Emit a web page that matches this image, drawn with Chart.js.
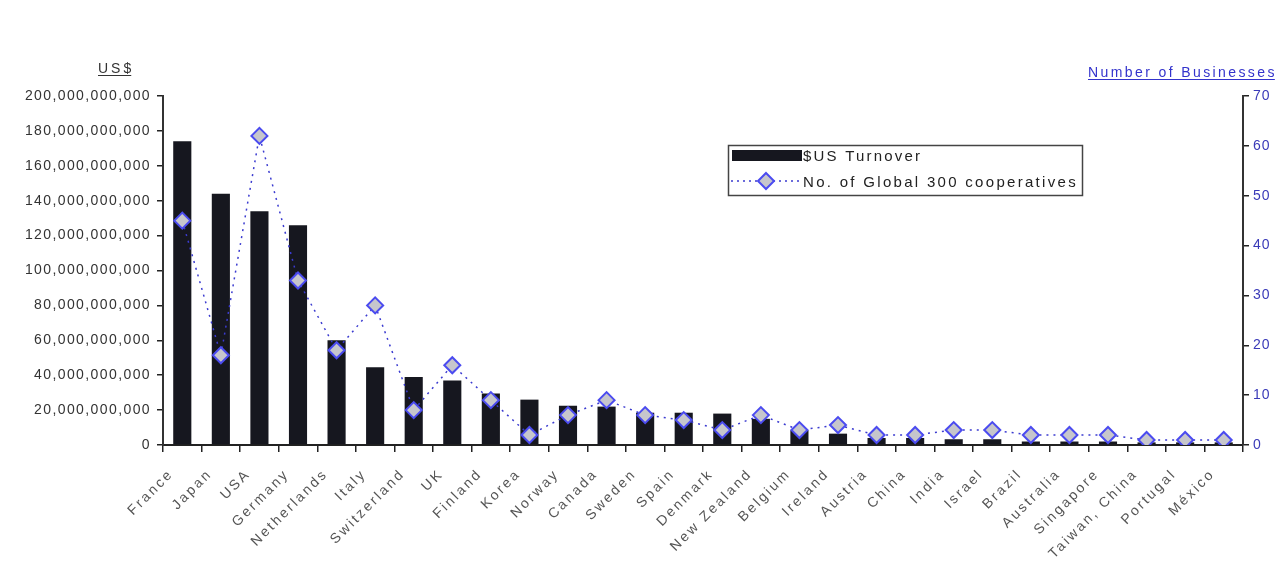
<!DOCTYPE html>
<html>
<head>
<meta charset="utf-8">
<script src="https://cdn.jsdelivr.net/npm/chart.js@4"></script>
<style>
  html, body { margin: 0; padding: 0; background: #fff; }
  #wrap { width: 1287px; height: 565px; position: relative; }
</style>
</head>
<body>
<div id="wrap"><canvas id="coopChart" width="1287" height="565"></canvas></div>
<script>
// Countries along the x axis
const countries = ['France', 'Japan', 'USA', 'Germany', 'Netherlands', 'Italy', 'Switzerland', 'UK',
  'Finland', 'Korea', 'Norway', 'Canada', 'Sweden', 'Spain', 'Denmark', 'New Zealand', 'Belgium',
  'Ireland', 'Austria', 'China', 'India', 'Israel', 'Brazil', 'Australia', 'Singapore',
  'Taiwan, China', 'Portugal', 'México'];

// $US turnover
const turnover = [174e9, 144e9, 134e9, 126e9, 60e9, 44.5e9, 39e9, 37e9, 29.5e9, 26e9, 22.5e9, 22e9,
  18.5e9, 18.5e9, 18e9, 15e9, 8.5e9, 6.5e9, 4e9, 4e9, 3.3e9, 3.3e9, 2e9, 2e9, 2e9, 1.5e9, 1.5e9, 1.5e9];

// Number of Global 300 cooperatives (right axis)
const coopCount = [45, 18, 62, 33, 19, 28, 7, 16, 9, 2, 6, 9, 6, 5, 3, 6, 3, 4, 2, 2, 3, 3, 2, 2, 2, 1, 1, 1];

const leftTicks = { max: 200e9, step: 20e9 };
const rightTicks = { max: 70, step: 10 };

const barColor = '#16171f';
const lineColor = '#3b3bd0';
const markerFill = '#c6c6cc';
const markerBorder = '#4b4bf0';
const font = 'Liberation Sans, Arial, sans-serif';

// the old picture has widely spaced text, so stretch the tick labels a bit
const labelSpacing = { x: '2.4px', y: '1.4px', yRight: '1px' };

const spacingPlugin = {
  id: 'spacing',
  beforeDraw(chart) {
    Object.keys(chart.scales).forEach(id => {
      const s = chart.scales[id];
      if (s._spaced) return;
      const orig = s.drawLabels.bind(s);
      s.drawLabels = function(area) {
        chart.ctx.save();
        chart.ctx.letterSpacing = labelSpacing[id] || '0px';
        orig(area);
        chart.ctx.restore();
      };
      s._spaced = true;
    });
  }
};

// axis titles + legend box drawn on the canvas
const extrasPlugin = {
  id: 'extras',
  afterDraw(chart) {
    const ctx = chart.ctx;
    ctx.save();
    ctx.font = '14px ' + font;
    ctx.textBaseline = 'alphabetic';

    // left title
    ctx.letterSpacing = '3px';
    ctx.fillStyle = '#333';
    ctx.fillText('US$', 98, 73);
    let w = ctx.measureText('US$').width - 3;
    ctx.fillRect(98, 75, w, 1);

    // right title
    ctx.letterSpacing = '2.4px';
    ctx.fillStyle = '#3333cc';
    ctx.fillText('Number of Businesses', 1088, 77);
    w = ctx.measureText('Number of Businesses').width - 2;
    ctx.fillRect(1088, 79, w, 1);

    // legend
    ctx.letterSpacing = '0px';
    ctx.strokeStyle = '#444';
    ctx.lineWidth = 1.5;
    ctx.strokeRect(728.5, 145.5, 354, 50);
    ctx.fillStyle = barColor;
    ctx.fillRect(732, 150, 70, 11);

    ctx.strokeStyle = lineColor;
    ctx.lineWidth = 1.5;
    ctx.setLineDash([2, 4]);
    ctx.beginPath();
    ctx.moveTo(731, 181);
    ctx.lineTo(801, 181);
    ctx.stroke();
    ctx.setLineDash([]);
    ctx.beginPath();
    ctx.moveTo(766, 173); ctx.lineTo(774, 181); ctx.lineTo(766, 189); ctx.lineTo(758, 181); ctx.closePath();
    ctx.fillStyle = markerFill;
    ctx.fill();
    ctx.strokeStyle = markerBorder;
    ctx.lineWidth = 2;
    ctx.stroke();

    ctx.fillStyle = '#222';
    ctx.font = '15px ' + font;
    ctx.letterSpacing = '2.2px';
    ctx.fillText('$US Turnover', 803, 161);
    ctx.letterSpacing = '2.3px';
    ctx.fillText('No. of Global 300 cooperatives', 803, 187);
    ctx.restore();
  }
};

const ctx = document.getElementById('coopChart').getContext('2d');
new Chart(ctx, {
  type: 'bar',
  data: {
    labels: countries,
    datasets: [
      {
        type: 'line',
        label: 'No. of Global 300 cooperatives',
        data: coopCount,
        yAxisID: 'yRight',
        borderColor: lineColor,
        borderWidth: 1.5,
        borderDash: [2, 5],
        pointStyle: 'rectRot',
        pointRadius: 8,
        pointBackgroundColor: markerFill,
        pointBorderColor: markerBorder,
        pointBorderWidth: 2,
        tension: 0,
        order: 0
      },
      {
        label: '$US Turnover',
        data: turnover,
        yAxisID: 'y',
        backgroundColor: barColor,
        categoryPercentage: 1,
        barPercentage: 0.47,
        order: 1
      }
    ]
  },
  options: {
    responsive: false,
    animation: false,
    layout: { padding: { top: 96, left: 0, right: 0, bottom: 0 } },
    plugins: { legend: { display: false }, tooltip: { enabled: false } },
    scales: {
      x: {
        grid: { display: true, drawOnChartArea: false, offset: true, tickLength: 7, color: '#222', lineWidth: 1.5 },
        border: { display: true, color: '#222', width: 2 },
        ticks: {
          autoSkip: false, minRotation: 45, maxRotation: 45,
          color: '#555', font: { family: font, size: 14 }, padding: 14, labelOffset: -11
        },
        afterFit(scale) { scale.height = 120; }
      },
      y: {
        position: 'left',
        min: 0, max: leftTicks.max,
        grid: { drawOnChartArea: false, tickLength: 6, color: '#222', lineWidth: 1.5 },
        border: { display: true, color: '#333', width: 2 },
        ticks: {
          stepSize: leftTicks.step,
          color: '#333', font: { family: font, size: 14 }, padding: 6,
          callback: v => v.toLocaleString('en-US')
        },
        afterFit(scale) { scale.width = 163; }
      },
      yRight: {
        position: 'right',
        min: 0, max: rightTicks.max,
        grid: { drawOnChartArea: false, tickLength: 6, color: '#222', lineWidth: 1.5 },
        border: { display: true, color: '#333', width: 2 },
        ticks: { stepSize: rightTicks.step, color: '#3a3ab8', font: { family: font, size: 14 }, padding: 4 },
        afterFit(scale) { scale.width = 44; }
      }
    }
  },
  plugins: [spacingPlugin, extrasPlugin]
});
</script>
</body>
</html>
